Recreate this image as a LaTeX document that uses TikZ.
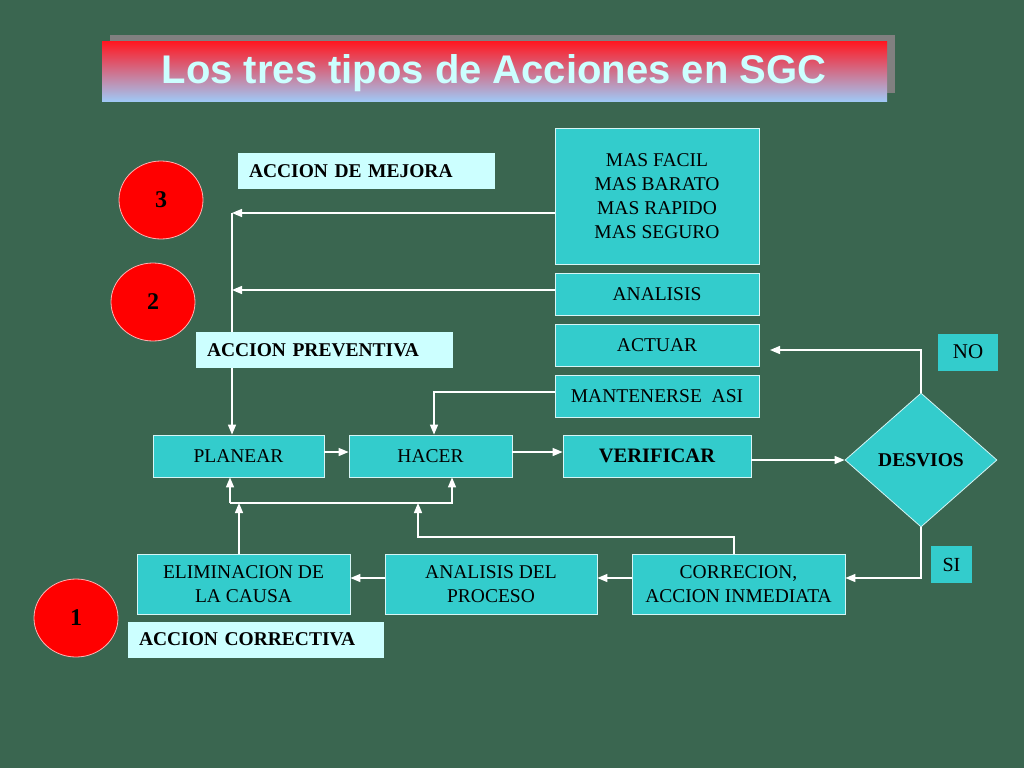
\documentclass[tikz,border=0pt]{standalone}
\usepackage{fontspec}
\setmainfont{Liberation Serif}
\newfontfamily\titlefont{Liberation Sans}
\usetikzlibrary{arrows.meta,shapes.geometric}
\definecolor{fondo}{RGB}{58,102,80}
\definecolor{turquesa}{RGB}{51,204,204}
\definecolor{celeste}{RGB}{204,255,255}
\definecolor{rojotit}{RGB}{255,25,35}
\definecolor{rosatit}{RGB}{228,140,170}
\definecolor{azultit}{RGB}{160,200,245}
\definecolor{sombra}{RGB}{128,128,128}

\begin{document}
\begin{tikzpicture}[x=1pt,y=-1pt,
    caja/.style={draw=white!80!turquesa, line width=0.8pt, fill=turquesa,
        inner sep=0pt, align=center, font=\fontsize{19.5}{24}\selectfont},
    etiqueta/.style={fill=celeste, inner xsep=11pt, inner ysep=0pt,
        minimum height=36pt, align=left, font=\bfseries\fontsize{19.5}{24}\selectfont},
    circulo/.style={ellipse, draw=white!70!red, line width=0.8pt, fill=red,
        minimum width=84pt, minimum height=78pt, inner sep=0pt,
        font=\bfseries\fontsize{24}{28}\selectfont},
    flecha/.style={draw=white, line width=1.4pt, -{Triangle[length=10pt,width=8pt]}},
    linea/.style={draw=white, line width=1.4pt}]
\useasboundingbox (0,0) rectangle (1024,768);
\fill[fondo] (0,0) rectangle (1024,768);

% title bar with its shadow
\fill[sombra] (110,35) rectangle (895,93);
\shade[top color=rojotit, middle color=rosatit, bottom color=azultit]
    (102,42) rectangle (887,101);
\node[text=celeste, font=\titlefont\bfseries\fontsize{40}{48}\selectfont]
    (titulo) at (494,73) {Los tres tipos de Acciones en SGC};

% right column
\node[caja, minimum width=204pt, minimum height=136pt] (mas) at (657,196)
    {MAS FACIL\\MAS BARATO\\MAS RAPIDO\\MAS SEGURO};
\node[caja, minimum width=204pt, minimum height=42pt] (analisis) at (657,294) {ANALISIS};
\node[caja, minimum width=204pt, minimum height=42pt] (actuar) at (657,345) {ACTUAR};
\node[caja, minimum width=204pt, minimum height=42pt] (mant) at (657,396) {MANTENERSE\ \ ASI};

% cycle row
\node[caja, minimum width=171pt, minimum height=42pt] (planear) at (238.5,456) {PLANEAR};
\node[caja, minimum width=163pt, minimum height=42pt] (hacer) at (430.5,456) {HACER};
\node[caja, minimum width=188pt, minimum height=42pt, font=\bfseries\fontsize{20.5}{24}\selectfont]
    (verif) at (657,456) {VERIFICAR};
\node[caja, diamond, minimum width=152pt, minimum height=134pt, aspect=1.13,
    font=\bfseries\fontsize{19.5}{24}\selectfont] (desv) at (921,460) {DESVIOS};
\node[fill=turquesa, minimum width=60pt, minimum height=37pt, inner sep=0pt,
    font=\fontsize{21}{24}\selectfont] (no) at (968,352) {NO};
\node[fill=turquesa, minimum width=41pt, minimum height=37pt, inner sep=0pt,
    font=\fontsize{20}{24}\selectfont] (si) at (951.5,564.5) {SI};

% bottom row
\node[caja, minimum width=213pt, minimum height=60pt] (elim) at (243.5,584) {ELIMINACION DE\\LA CAUSA};
\node[caja, minimum width=212pt, minimum height=60pt] (proceso) at (491,584) {ANALISIS DEL\\PROCESO};
\node[caja, minimum width=213pt, minimum height=60pt] (correc) at (738.5,584) {CORRECION,\\ACCION INMEDIATA};

% helper points for the connectors
\coordinate (mejora) at (232,213);
\coordinate (prev) at (232,290);
\coordinate (brizq) at (230,503);
\coordinate (brder) at (452,503);
\coordinate (retorno) at (418,537);
\coordinate (actuarfin) at (770,350);

% connectors
\draw[flecha] (mas.west |- mejora) -- (mejora);
\draw[flecha] (analisis.west |- prev) -- (prev);
\draw[flecha] (mejora) -- (mejora |- planear.north);
\draw[flecha] ([yshift=4pt]mant.west) -| ([xshift=3.5pt]hacer.north);
\draw[flecha] ([yshift=4pt]planear.east) -- ([yshift=4pt]hacer.west);
\draw[flecha] ([yshift=4pt]hacer.east) -- ([yshift=4pt]verif.west);
\draw[flecha] (verif.east |- desv.west) -- (desv.west);
\draw[flecha] (desv.north) |- (actuarfin);
\draw[flecha] (desv.south) |- ([yshift=6pt]correc.east);
\draw[flecha] ([yshift=6pt]correc.west) -- ([yshift=6pt]proceso.east);
\draw[flecha] ([yshift=6pt]proceso.west) -- ([yshift=6pt]elim.east);
\draw[flecha] (brizq) -- (brizq |- planear.south);
\draw[flecha] (brizq) -| (brder |- hacer.south);
\draw[flecha] ([xshift=-4.5pt]elim.north) -- ([xshift=-4.5pt]elim.north |- brizq);
\draw[flecha] ([xshift=-4.5pt]correc.north) |- (retorno) -- (retorno |- brizq);

% labels and numbered circles
\node[etiqueta, text width=235pt] (lbmejora) at (366.5,171) {ACCION DE MEJORA};
\node[etiqueta, text width=235pt] (lbprev) at (324.5,350) {ACCION PREVENTIVA};
\node[etiqueta, text width=234pt] (lbcorr) at (256,639.5) {ACCION CORRECTIVA};
\node[circulo] (c3) at (161,200) {3};
\node[circulo] (c2) at (153,302) {2};
\node[circulo] (c1) at (76,618) {1};
\end{tikzpicture}
\end{document}
